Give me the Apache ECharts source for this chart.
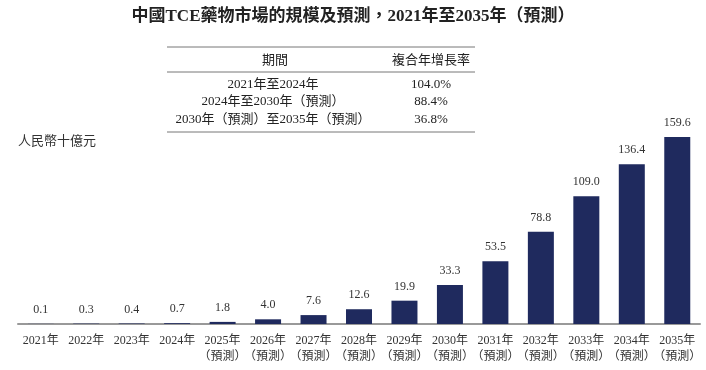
<!DOCTYPE html>
<html><head><meta charset="utf-8">
<script src="https://cdn.jsdelivr.net/npm/echarts@6/dist/echarts.min.js"></script>
<style>html,body{margin:0;padding:0;background:#fff}#c{width:706px;height:370px}</style>
</head><body><div id="c"></div>
<script>
const categories = ['2021年','2022年','2023年','2024年','2025年\n（預測）','2026年\n（預測）','2027年\n（預測）','2028年\n（預測）','2029年\n（預測）','2030年\n（預測）','2031年\n（預測）','2032年\n（預測）','2033年\n（預測）','2034年\n（預測）','2035年\n（預測）'];
const values = [0.1,0.3,0.4,0.7,1.8,4.0,7.6,12.6,19.9,33.3,53.5,78.8,109.0,136.4,159.6];
const tableHeader = ['期間','複合年增長率'];
const tablePeriods = ['2021年至2024年','2024年至2030年（預測）','2030年（預測）至2035年（預測）'];
const tableCagr = ['104.0%','88.4%','36.8%'];
const titleText = '中國TCE藥物市場的規模及預測，2021年至2035年（預測）';
const unitText = '人民幣十億元';

const serif = '"Liberation Serif","Times New Roman","Noto Sans CJK TC",serif';
const chart = echarts.init(document.getElementById('c'));
const g = [];
g.push({type:'text', left:'center', top:8, style:{text:titleText, font:'bold 17px '+serif, fill:'#222'}});
g.push({type:'text', left:18, top:135, style:{text:unitText, font:'13px '+serif, fill:'#333'}});
[47,72,132].forEach(y=>g.push({type:'line', shape:{x1:167,y1:y,x2:475,y2:y}, style:{stroke:'#777', lineWidth:1}}));
g.push({type:'text', x:275, y:59, style:{text:tableHeader[0], font:'13px "Noto Sans CJK TC",sans-serif', fill:'#222', align:'center', verticalAlign:'middle'}});
g.push({type:'text', x:431, y:59, style:{text:tableHeader[1], font:'13px "Noto Sans CJK TC",sans-serif', fill:'#222', align:'center', verticalAlign:'middle'}});
const rowsY = [85,102,120];
tablePeriods.forEach((t,i)=>{
  g.push({type:'text', x:273, y:rowsY[i], style:{text:t, font:'13px '+serif, fill:'#222', align:'center', verticalAlign:'middle'}});
  g.push({type:'text', x:431, y:rowsY[i], style:{text:tableCagr[i], font:'13px '+serif, fill:'#222', align:'center', verticalAlign:'middle'}});
});

chart.setOption({
  animation:false,
  grid:{left:18, right:6, top:136.5, bottom:46, containLabel:false},
  xAxis:{type:'category', data:categories,
    axisLine:{lineStyle:{color:'#999', width:2}}, axisTick:{show:false},
    axisLabel:{interval:0, color:'#333', fontFamily:serif, fontSize:12, lineHeight:16, margin:9}},
  yAxis:{type:'value', min:0, max:160, show:false, splitLine:{show:false}},
  series:[{type:'bar', data:values, barWidth:26, itemStyle:{color:'#1f2a5e'},
    label:{show:true, position:'top', distance:8, color:'#333', fontFamily:serif, fontSize:12,
      formatter:p=>p.value.toFixed(1)}}],
  graphic:g
});
</script></body></html>
